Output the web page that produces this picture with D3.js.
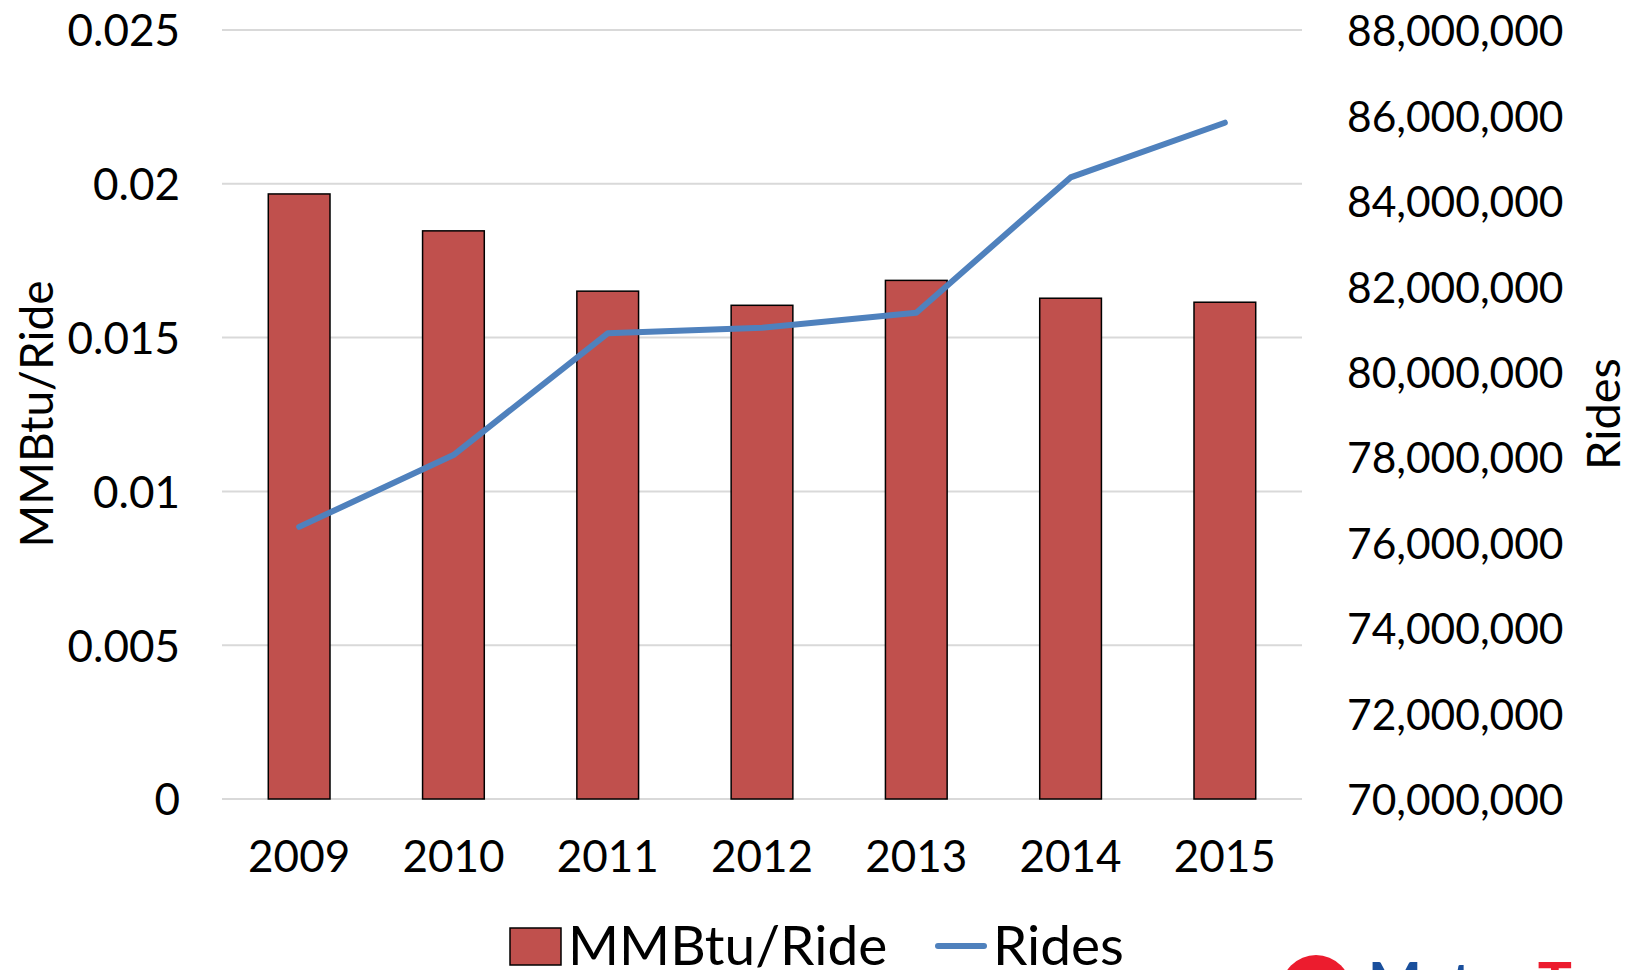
<!DOCTYPE html>
<html>
<head>
<meta charset="utf-8">
<script src="https://cdn.jsdelivr.net/npm/d3@7"></script>
<style>
  body { margin: 0; background: #fff; }
  text { font-family: Lato, "Open Sans", sans-serif; fill: #000; }
</style>
</head>
<body>
<script>
// chart values
const years = ["2009", "2010", "2011", "2012", "2013", "2014", "2015"];
const mmbtuPerRide = [0.01967, 0.01847, 0.01651, 0.01605, 0.01686, 0.01628, 0.01615];
const rides = [76370000, 78050000, 80900000, 81030000, 81380000, 84550000, 85830000];
const leftTicks = [0, 0.005, 0.01, 0.015, 0.02, 0.025];
const leftTickLabels = ["0", "0.005", "0.01", "0.015", "0.02", "0.025"];
const rightTicks = [70e6, 72e6, 74e6, 76e6, 78e6, 80e6, 82e6, 84e6, 86e6, 88e6];

const width = 1636, height = 970;
const plotLeft = 222, plotRight = 1302, plotTop = 30, plotBottom = 799;

const svg = d3.select("body").append("svg")
    .attr("width", width)
    .attr("height", height);

const x = d3.scaleBand().domain(years).range([plotLeft, plotRight])
    .paddingInner(0.6).paddingOuter(0.3);
const yL = d3.scaleLinear().domain([0, 0.025]).range([plotBottom, plotTop]);
const yR = d3.scaleLinear().domain([70e6, 88e6]).range([plotBottom, plotTop]);

// gridlines
svg.append("g").selectAll("line")
    .data(leftTicks)
    .enter().append("line")
    .attr("x1", plotLeft).attr("x2", plotRight)
    .attr("y1", d => yL(d)).attr("y2", d => yL(d))
    .attr("stroke", "#d9d9d9")
    .attr("stroke-width", 2);

// bars
svg.append("g").selectAll("rect")
    .data(mmbtuPerRide)
    .enter().append("rect")
    .attr("x", (d, i) => x(years[i]))
    .attr("width", x.bandwidth())
    .attr("y", d => yL(d))
    .attr("height", d => plotBottom - yL(d))
    .attr("fill", "#c0504d")
    .attr("stroke", "#000")
    .attr("stroke-width", 1.5);

// rides line
const line = d3.line()
    .x((d, i) => x(years[i]) + x.bandwidth() / 2)
    .y(d => yR(d));

svg.append("path")
    .datum(rides)
    .attr("d", line)
    .attr("fill", "none")
    .attr("stroke", "#4f81bd")
    .attr("stroke-width", 6)
    .attr("stroke-linecap", "round")
    .attr("stroke-linejoin", "round");

// axes
const fs = 44;

const axL = svg.append("g")
    .attr("transform", `translate(${plotLeft},0)`)
    .call(d3.axisLeft(yL).tickValues(leftTicks)
        .tickFormat((d, i) => leftTickLabels[i])
        .tickSize(0).tickPadding(42));

const axR = svg.append("g")
    .attr("transform", `translate(${plotRight},0)`)
    .call(d3.axisRight(yR).tickValues(rightTicks)
        .tickFormat(d3.format(","))
        .tickSize(0).tickPadding(45));

const axB = svg.append("g")
    .attr("transform", `translate(0,${plotBottom})`)
    .call(d3.axisBottom(x).tickSize(0).tickPadding(42));

[axL, axB].forEach(g => {
    g.select(".domain").remove();
    g.selectAll("text")
        .attr("font-size", fs)
        .attr("font-family", "Lato, sans-serif")
        .attr("fill", "#000");
});
axR.select(".domain").remove();
axR.selectAll("text")
    .attr("font-size", 42.5)
    .attr("font-family", "Lato, sans-serif")
    .attr("fill", "#000");
axL.selectAll("text").attr("dy", "0.36em");
axR.selectAll("text").attr("dy", "0.37em");

// axis titles
svg.append("text")
    .attr("transform", "translate(53,414) rotate(-90)")
    .attr("text-anchor", "middle")
    .attr("font-size", 46)
    .text("MMBtu/Ride");

svg.append("text")
    .attr("transform", "translate(1620,414) rotate(-90)")
    .attr("text-anchor", "middle")
    .attr("font-size", 47)
    .text("Rides");

// legend
const legend = svg.append("g");
legend.append("rect")
    .attr("x", 510).attr("y", 928)
    .attr("width", 51).attr("height", 37)
    .attr("fill", "#c0504d")
    .attr("stroke", "#000")
    .attr("stroke-width", 1.5);
legend.append("text")
    .attr("x", 568).attr("y", 965)
    .attr("font-size", 55)
    .text("MMBtu/Ride");
legend.append("line")
    .attr("x1", 938).attr("x2", 984)
    .attr("y1", 946).attr("y2", 946)
    .attr("stroke", "#4f81bd")
    .attr("stroke-width", 6)
    .attr("stroke-linecap", "round");
legend.append("text")
    .attr("x", 993).attr("y", 965)
    .attr("font-size", 55)
    .text("Rides");

// logo peeking in at the bottom right
const logo = svg.append("g");
logo.append("circle")
    .attr("cx", 1316).attr("cy", 990).attr("r", 35)
    .attr("fill", "#ec1c2e");
const logoText = logo.append("text")
    .attr("x", 1368).attr("y", 1004)
    .attr("font-family", "Liberation Serif, serif")
    .attr("font-weight", "bold")
    .attr("font-size", 57);
logoText.append("tspan").attr("fill", "#1a4f9c").text("Metro ");
logoText.append("tspan").attr("fill", "#ec1c2e").text("Transit");
</script>
</body>
</html>
